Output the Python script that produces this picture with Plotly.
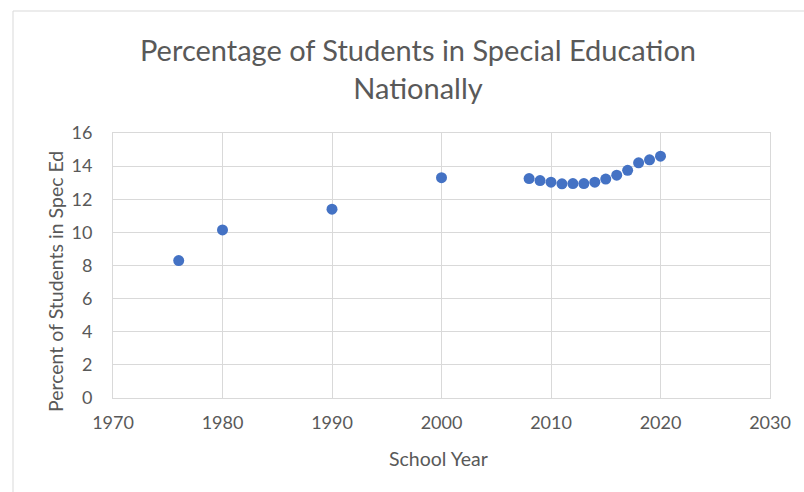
import plotly.graph_objects as go

years = [1976, 1980, 1990, 2000, 2008, 2009, 2010, 2011, 2012, 2013, 2014,
         2015, 2016, 2017, 2018, 2019, 2020]
percent = [8.3, 10.15, 11.4, 13.3, 13.25, 13.13, 13.03, 12.93, 12.95, 12.95, 13.03,
           13.22, 13.45, 13.75, 14.2, 14.38, 14.6]

x_ticks = [1970, 1980, 1990, 2000, 2010, 2020, 2030]
y_ticks = [0, 2, 4, 6, 8, 10, 12, 14, 16]

title_text = "Percentage of Students in Special Education<br>Nationally"
x_title = "School Year"
y_title = "Percent of Students in Spec Ed"

FONT = "Lato"
GRAY = "#595959"
GRID = "#d9d9d9"

fig = go.Figure()
fig.add_trace(go.Scatter(
    x=years, y=percent, mode="markers",
    marker=dict(color="#4472C4", size=11, line=dict(width=0)),
    showlegend=False,
))

W, H = 804, 492
L, R, T, B = 113, 34, 133, 94
pw, ph = W - L - R, H - T - B

def px_x(px):
    return (px - L) / pw

def px_y(py):
    return (H - B - py) / ph

fig.update_layout(
    width=W, height=H,
    margin=dict(l=L, r=R, t=T, b=B),
    paper_bgcolor="white", plot_bgcolor="white",
    font=dict(family=FONT, color=GRAY),
    title=dict(text=title_text, x=418 / W, xanchor="center",
               y=1 - 61 / H, yanchor="middle",
               font=dict(family=FONT, size=29, color=GRAY)),
    xaxis=dict(range=[1970, 2030], tickvals=x_ticks, ticks="",
               showgrid=True, gridcolor=GRID, gridwidth=1,
               showline=True, linecolor=GRID, linewidth=1, mirror=True,
               zeroline=False, tickfont=dict(size=18, color=GRAY),
               ticklabelstandoff=8),
    yaxis=dict(range=[0, 16], tickvals=y_ticks, ticks="",
               showgrid=True, gridcolor=GRID, gridwidth=1,
               showline=True, linecolor=GRID, linewidth=1, mirror=True,
               zeroline=False, tickfont=dict(size=18, color=GRAY),
               ticklabelstandoff=16),
    annotations=[
        dict(text=x_title, xref="paper", yref="paper",
             x=px_x(438), y=px_y(458), xanchor="center", yanchor="middle",
             showarrow=False, font=dict(family=FONT, size=19.5, color=GRAY)),
        dict(text=y_title, xref="paper", yref="paper", textangle=-90,
             x=px_x(55), y=px_y(282), xanchor="center", yanchor="middle",
             showarrow=False, font=dict(family=FONT, size=19.5, color=GRAY)),
    ],
    shapes=[
        dict(type="line", xref="paper", yref="paper",
             x0=px_x(13), x1=px_x(804), y0=px_y(11), y1=px_y(11),
             line=dict(color=GRID, width=1)),
        dict(type="line", xref="paper", yref="paper",
             x0=px_x(13), x1=px_x(13), y0=px_y(11), y1=px_y(492),
             line=dict(color=GRID, width=1)),
    ],
)

fig.write_html("out.html")
